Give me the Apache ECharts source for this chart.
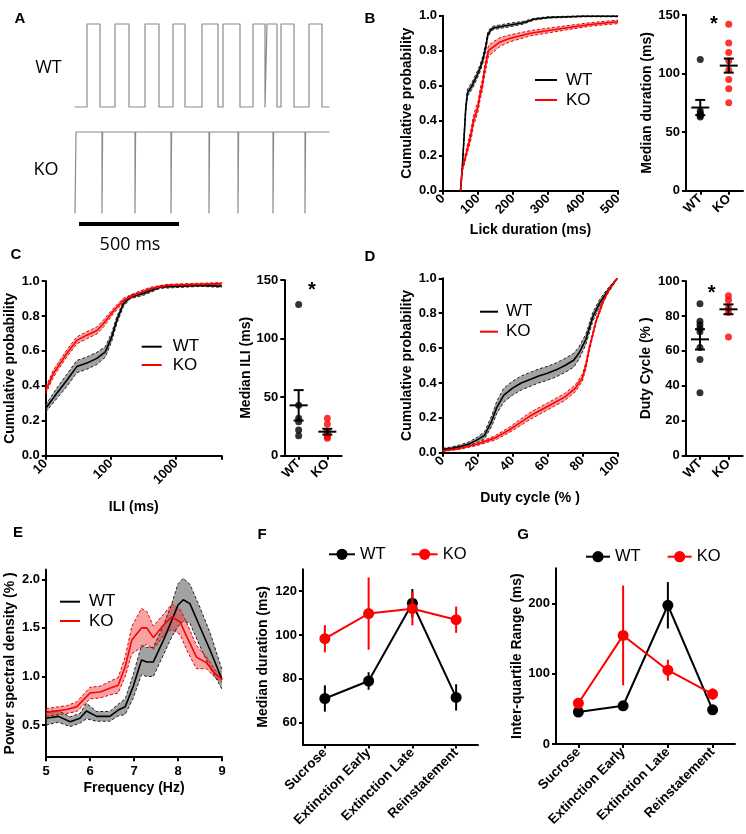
<!DOCTYPE html>
<html><head><meta charset="utf-8">
<script src="https://cdn.jsdelivr.net/npm/echarts@6/dist/echarts.min.js"></script>
<style>html,body{margin:0;padding:0;background:#fff}#c{width:746px;height:834px}</style>
</head><body><div id="c"></div>
<script>
const FONT = '"Liberation Sans", Arial, Helvetica, sans-serif';
const RED = '#ff0000';

// ---------- Panel A: example lick traces (ms) ----------
const wtTraceEdges = [60,125,200,270,350,420,490,550,635,715,740,825,890,950,960,1010,1030,1095,1170,1235];
const koTraceStart = 5;
const koTraceDips = [135,300,480,670,815,990,1150];
const koDipWidth = 3;
const traceEndMs = 1270;
const scaleBarMs = [20, 520];

// ---------- Panel B: lick duration CDF ----------
const bWtX = [50,55,60,65,70,83,95,106,114,122,128,135,143,170,200,230,260,300,400,500];
const bWtY = [0,0.13,0.3,0.47,0.56,0.6,0.65,0.7,0.75,0.82,0.89,0.915,0.93,0.94,0.95,0.96,0.98,0.99,0.997,0.997];
const bWtE = [0,0.01,0.02,0.02,0.02,0.02,0.02,0.02,0.02,0.02,0.015,0.012,0.01,0.01,0.01,0.008,0.005,0.004,0.003,0.003];
const bKoX = [50,55,65,81,87,100,106,112,120,130,143,163,190,250,350,420,500];
const bKoY = [0,0.12,0.2,0.33,0.4,0.48,0.55,0.6,0.7,0.8,0.82,0.85,0.87,0.9,0.93,0.95,0.965];
const bKoE = [0,0.01,0.02,0.03,0.03,0.03,0.03,0.03,0.03,0.03,0.03,0.025,0.02,0.015,0.012,0.01,0.01];
const groups = ['WT','KO'];
const bDotsWT = [112,68,66,65,64,63];
const bDotsKO = [142,126,118,111,103,95,87,75];
const bMean = [71,106.8];
const bSem = [6.5,6];

// ---------- Panel C: ILI CDF (log x) ----------
const cWtX = [10,14.8,21,30,42.7,61,82,103,123,156,198,317,570,2350,5000];
const cWtY = [0.27,0.357,0.43,0.51,0.53,0.557,0.594,0.68,0.775,0.87,0.909,0.928,0.966,0.975,0.97];
const cWtE = [0.02,0.03,0.035,0.035,0.035,0.035,0.03,0.025,0.02,0.015,0.01,0.01,0.008,0.006,0.006];
const cKoX = [10,13.1,21,30,42.7,61,77,110,156,222,400,730,5000];
const cKoY = [0.373,0.47,0.585,0.66,0.69,0.717,0.757,0.83,0.89,0.918,0.956,0.975,0.985];
const cKoE = [0.02,0.02,0.02,0.02,0.02,0.02,0.02,0.015,0.012,0.01,0.008,0.006,0.006];
const cDotsWT = [129,43,32,29,22,17];
const cDotsKO = [32,27,21,20,18,16,15];
const cMean = [43,20.5];
const cSem = [13,2.5];

// ---------- Panel D: duty cycle CDF ----------
const dWtX = [0,5,10,15,20,24,28,31,35,40,45,50,55,60,65,70,75,78,82,86,90,94,97,100];
const dWtY = [0.02,0.025,0.035,0.05,0.075,0.1,0.18,0.26,0.33,0.37,0.4,0.42,0.44,0.455,0.475,0.5,0.53,0.57,0.65,0.78,0.86,0.92,0.96,1.0];
const dWtE = [0.005,0.008,0.01,0.012,0.015,0.02,0.03,0.035,0.04,0.04,0.04,0.04,0.04,0.04,0.04,0.04,0.04,0.035,0.03,0.025,0.02,0.015,0.01,0];
const dKoX = [0,10,20,30,38,44,50,60,70,76,80,82,84,86,88,92,96,100];
const dKoY = [0.01,0.025,0.05,0.085,0.13,0.17,0.21,0.265,0.32,0.37,0.43,0.5,0.6,0.68,0.76,0.87,0.95,1.0];
const dKoE = [0.003,0.005,0.008,0.012,0.015,0.018,0.02,0.02,0.02,0.02,0.02,0.018,0.015,0.013,0.012,0.01,0.006,0];
const dDotsWT = [87,77,75,73,71,62,55,36];
const dDotsKO = [91.5,89,84.5,82,68];
const dMean = [66.6,83.8];
const dSem = [5.8,2.8];

// ---------- Panel E: power spectral density ----------
const eWtX = [5.0,5.28,5.55,5.77,5.92,6.15,6.45,6.64,6.8,6.98,7.17,7.29,7.44,7.67,7.86,8.0,8.12,8.27,8.5,8.73,9.0];
const eWtY = [0.57,0.59,0.535,0.57,0.645,0.59,0.59,0.655,0.69,0.895,1.17,1.15,1.15,1.375,1.58,1.735,1.79,1.75,1.51,1.27,0.97];
const eWtE = [0.07,0.06,0.05,0.05,0.08,0.05,0.05,0.06,0.08,0.12,0.15,0.15,0.15,0.15,0.17,0.22,0.22,0.2,0.2,0.18,0.1];
const eKoX = [5.0,5.47,5.7,6.0,6.23,6.45,6.64,6.8,6.95,7.17,7.29,7.44,7.67,7.86,8.05,8.2,8.42,8.65,8.84,9.0];
const eKoY = [0.63,0.66,0.69,0.83,0.84,0.88,0.91,1.1,1.375,1.5,1.5,1.4,1.53,1.615,1.56,1.41,1.2,1.14,1.03,0.97];
const eKoE = [0.04,0.04,0.05,0.06,0.06,0.07,0.08,0.1,0.14,0.2,0.17,0.12,0.11,0.13,0.13,0.14,0.12,0.06,0.04,0.03];

// ---------- Panels F and G ----------
const sessions = ['Sucrose','Extinction Early','Extinction Late','Reinstatement'];
const fWt = [71,79,114.5,71.5];
const fWtErr = [6,4,6.5,6];
const fKo = [98.3,109.8,112,107];
const fKoErr = [6.2,16.5,7.6,6];
const gWt = [45.4,54.4,197.4,48.6];
const gWtErr = [6,4,33,4];
const gKo = [58,154.5,105,71];
const gKoErr = [4,71,15,8];

// ================= helpers =================
function merge(a, b) {
  const r = Object.assign({}, a);
  for (const k in b) {
    if (b[k] && typeof b[k] === 'object' && !Array.isArray(b[k]) && a[k] && typeof a[k] === 'object' && !Array.isArray(a[k])) r[k] = merge(a[k], b[k]);
    else r[k] = b[k];
  }
  return r;
}
const axBase = {
  axisLine: {show: true, onZero: false, lineStyle: {color: '#000', width: 2}},
  axisTick: {show: true, length: 4, lineStyle: {color: '#000', width: 2}},
  axisLabel: {color: '#000', fontFamily: FONT, fontWeight: 'bold', fontSize: 13, margin: 6},
  splitLine: {show: false},
  nameLocation: 'middle',
  nameTextStyle: {color: '#000', fontFamily: FONT, fontWeight: 'bold', fontSize: 14}
};
function ax(gridIndex, o) { return merge(merge(axBase, {gridIndex}), o); }
function hidden(gridIndex, min, max) { return {gridIndex, type: 'value', show: false, min, max}; }
const fix1 = v => v.toFixed(1);
function zip(xs, ys) { return xs.map((x, i) => [x, ys[i]]); }

function traceData(edges, startLevel) {
  let lvl = startLevel; const d = [[0, lvl]];
  edges.forEach(t => { d.push([t, lvl]); lvl = 1 - lvl; d.push([t, lvl]); });
  d.push([traceEndMs, lvl]);
  return d;
}
function bandPoly(xi, yi, xs, ys, err, fill) {
  return {type: 'custom', xAxisIndex: xi, yAxisIndex: yi, silent: true, z: 1,
    data: xs.map((x, i) => [x, ys[i] - err[i], ys[i] + err[i]]),
    encode: {x: 0, y: [1, 2]},
    renderItem: function (params, api) {
      if (params.dataIndex !== 0) return null;
      const up = [], dn = [];
      for (let i = 0; i < xs.length; i++) {
        up.push(api.coord([xs[i], ys[i] + err[i]]));
        dn.push(api.coord([xs[i], ys[i] - err[i]]));
      }
      return {type: 'polygon', shape: {points: up.concat(dn.reverse())}, style: {fill}};
    }};
}
function dashed(xi, yi, xs, ys, err, sign, color) {
  return {type: 'line', xAxisIndex: xi, yAxisIndex: yi, silent: true, z: 2, symbol: 'none', showSymbol: false,
    data: xs.map((x, i) => [x, ys[i] + sign * err[i]]),
    lineStyle: {color, width: 1, type: [3, 2]}};
}
function meanLine(name, xi, yi, xs, ys, color) {
  return {type: 'line', name, xAxisIndex: xi, yAxisIndex: yi, silent: true, z: 3, symbol: 'none', showSymbol: false,
    data: zip(xs, ys), lineStyle: {color, width: 1.6}, itemStyle: {color}};
}
function cdf(name, xi, yi, xs, ys, err, color, fill, dash) {
  return [bandPoly(xi, yi, xs, ys, err, fill), dashed(xi, yi, xs, ys, err, 1, dash), dashed(xi, yi, xs, ys, err, -1, dash), meanLine(name, xi, yi, xs, ys, color)];
}
function meanSemRender(params, api) {
  const x = api.value(0), m = api.value(1), s = api.value(2);
  const c = api.coord([x, m]), t = api.coord([x, m + s]), b = api.coord([x, m - s]);
  const st = () => ({stroke: '#000', lineWidth: 2});
  return {type: 'group', children: [
    {type: 'line', shape: {x1: c[0] - 9, y1: c[1], x2: c[0] + 9, y2: c[1]}, style: st()},
    {type: 'line', shape: {x1: c[0], y1: t[1], x2: c[0], y2: b[1]}, style: st()},
    {type: 'line', shape: {x1: c[0] - 5, y1: t[1], x2: c[0] + 5, y2: t[1]}, style: st()},
    {type: 'line', shape: {x1: c[0] - 5, y1: b[1], x2: c[0] + 5, y2: b[1]}, style: st()}
  ]};
}
function dotPlot(xi, yi, wtVals, koVals, means, sems) {
  return [
    {type: 'scatter', name: 'WT points', xAxisIndex: xi, yAxisIndex: yi, silent: true, z: 3, symbolSize: 7,
      data: wtVals.map(v => [groups[0], v]), itemStyle: {color: '#000'}},
    {type: 'scatter', name: 'KO points', xAxisIndex: xi, yAxisIndex: yi, silent: true, z: 3, symbolSize: 7,
      data: koVals.map(v => [groups[1], v]), itemStyle: {color: RED}},
    {type: 'custom', xAxisIndex: xi, yAxisIndex: yi, silent: true, z: 4, encode: {x: 0, y: 1},
      data: means.map((m, i) => [i, m, sems[i]]), renderItem: meanSemRender}
  ];
}
function errRender(color) {
  return function (params, api) {
    const x = api.value(0), m = api.value(1), e = api.value(2);
    const t = api.coord([x, m + e]), b = api.coord([x, m - e]);
    return {type: 'line', shape: {x1: t[0], y1: t[1], x2: b[0], y2: b[1]}, style: {stroke: color, lineWidth: 2}};
  };
}
function sessionSeries(name, xi, yi, vals, errs, color, zBase) {
  return [
    {type: 'custom', xAxisIndex: xi, yAxisIndex: yi, silent: true, z: zBase, encode: {x: 0, y: 1},
      data: vals.map((v, i) => [i, v, errs[i]]), renderItem: errRender(color)},
    {type: 'line', name, xAxisIndex: xi, yAxisIndex: yi, silent: true, z: zBase + 1, data: vals,
      symbol: 'circle', symbolSize: 11, lineStyle: {color, width: 2}, itemStyle: {color}}
  ];
}
function lineLegend(left, top, w, gap, pad) {
  return {left, top, orient: 'vertical', icon: 'rect', itemWidth: w, itemHeight: 2, itemGap: gap, selectedMode: false, padding: 0,
    itemStyle: {borderWidth: 0},
    textStyle: {fontFamily: FONT, fontSize: 17, color: '#000', lineHeight: 17, padding: [0, 0, 0, pad]},
    data: [{name: 'WT', itemStyle: {color: '#000'}}, {name: 'KO', itemStyle: {color: RED}}]};
}
function dotLegend(left, top, w, gap) {
  return {left, top, orient: 'horizontal', itemWidth: w, itemHeight: 14, itemGap: gap, selectedMode: false, padding: 0,
    lineStyle: {width: 2},
    textStyle: {fontFamily: FONT, fontSize: 16.5, color: '#000', lineHeight: 17},
    data: ['WT', 'KO']};
}
function txt(t, x, y, size, weight, family) {
  return {type: 'text', x, y, silent: true,
    style: {text: t, fontSize: size, fontWeight: weight || 'normal', fontFamily: family || FONT, fill: '#000', align: 'center', verticalAlign: 'middle'}};
}

const grids = [
  {left: 75, top: 24, width: 254, height: 83},
  {left: 75, top: 132, width: 254, height: 81},
  {left: 75, top: 220, width: 254, height: 8},
  {left: 443, top: 15.7, width: 175, height: 175},
  {left: 686, top: 15, width: 57, height: 175.7},
  {left: 45.7, top: 281, width: 176, height: 174.7},
  {left: 284.3, top: 280, width: 57.4, height: 175.7},
  {left: 442.7, top: 278.3, width: 174.6, height: 174.4},
  {left: 685.7, top: 281, width: 57, height: 174.7},
  {left: 46, top: 569.6, width: 176, height: 187.6},
  {left: 303, top: 569.3, width: 175, height: 175.2},
  {left: 556, top: 568.3, width: 179, height: 175.7}
];

const catX = (gi, data) => ax(gi, {type: 'category', data, axisTick: {alignWithLabel: true}, axisLabel: {rotate: 45, interval: 0}});

const xAxes = [
  hidden(0, 0, traceEndMs), hidden(1, 0, traceEndMs), hidden(2, 0, traceEndMs),
  ax(3, {type: 'value', min: 0, max: 500, interval: 100, axisLabel: {rotate: 45}, name: 'Lick duration (ms)', nameGap: 32}),
  catX(4, groups),
  ax(5, {type: 'log', logBase: 10, min: 10, max: 5000, axisLabel: {rotate: 45, formatter: v => ([10, 100, 1000].indexOf(Math.round(v)) >= 0 ? String(Math.round(v)) : '')},
    name: 'ILI (ms)', nameGap: 44}),
  catX(6, groups),
  ax(7, {type: 'value', min: 0, max: 100, interval: 20, axisLabel: {rotate: 45}, name: 'Duty cycle (% )', nameGap: 38.6}),
  catX(8, groups),
  ax(9, {type: 'value', min: 5, max: 9, interval: 1, name: 'Frequency (Hz)', nameGap: 24, axisLabel: {margin: 8}}),
  merge(catX(10, sessions), {axisLabel: {fontSize: 13.5}}),
  merge(catX(11, sessions), {axisLabel: {fontSize: 13.5}})
];
const yAxes = [
  hidden(0, 0, 1), hidden(1, 0, 1), hidden(2, 0, 1),
  ax(3, {type: 'value', min: 0, max: 1, interval: 0.2, axisLabel: {formatter: fix1}, name: 'Cumulative probability', nameGap: 29}),
  ax(4, {type: 'value', min: 0, max: 150, interval: 50, name: 'Median duration (ms)', nameGap: 32}),
  ax(5, {type: 'value', min: 0, max: 1, interval: 0.2, axisLabel: {formatter: fix1}, name: 'Cumulative probability', nameGap: 29}),
  ax(6, {type: 'value', min: 0, max: 150, interval: 50, name: 'Median ILI (ms)', nameGap: 30}),
  ax(7, {type: 'value', min: 0, max: 1, interval: 0.2, axisLabel: {formatter: fix1}, name: 'Cumulative probability', nameGap: 29}),
  ax(8, {type: 'value', min: 0, max: 100, interval: 20, name: 'Duty Cycle (% )', nameGap: 33}),
  ax(9, {type: 'value', min: 0.17, max: 2.1, axisTick: {customValues: [0.5, 1, 1.5, 2]},
    axisLabel: {customValues: [0.5, 1, 1.5, 2], formatter: v => (Math.abs(v * 2 - Math.round(v * 2)) < 1e-6 ? v.toFixed(1) : '')},
    name: 'Power spectral density (% )', nameGap: 29}),
  ax(10, {type: 'value', min: 50, max: 130, axisTick: {customValues: [60, 80, 100, 120]},
    axisLabel: {customValues: [60, 80, 100, 120], formatter: v => (v % 20 === 0 && v >= 60 && v <= 120 ? String(v) : '')},
    name: 'Median duration (ms)', nameGap: 33}),
  ax(11, {type: 'value', min: 0, max: 250, axisTick: {customValues: [0, 100, 200]},
    axisLabel: {customValues: [0, 100, 200], formatter: v => (v % 100 === 0 && v <= 200 ? String(v) : '')},
    name: 'Inter-quartile Range (ms)', nameGap: 28})
];

const traceStyle = () => ({color: '#8a8a8a', width: 1.2, join: 'round', cap: 'round'});
const koEdges = [koTraceStart].concat(...koTraceDips.map(t => [t, t + koDipWidth]));

const series = [].concat(
  cdf('WT', 3, 3, bWtX, bWtY, bWtE, '#000', 'rgba(70,70,70,0.5)', '#222'),
  cdf('KO', 3, 3, bKoX, bKoY, bKoE, RED, 'rgba(238,50,50,0.45)', '#e00000'),
  [
    {type: 'line', name: 'WT trace', xAxisIndex: 0, yAxisIndex: 0, silent: true, clip: false, symbol: 'none', data: traceData(wtTraceEdges, 0), lineStyle: traceStyle()},
    {type: 'line', name: 'KO trace', xAxisIndex: 1, yAxisIndex: 1, silent: true, clip: false, symbol: 'none', data: traceData(koEdges, 0), lineStyle: traceStyle()},
    {type: 'line', name: 'scale bar', xAxisIndex: 2, yAxisIndex: 2, silent: true, clip: false, symbol: 'none', data: scaleBarMs.map(t => [t, 0.5]), lineStyle: {color: '#000', width: 4}}
  ],
  dotPlot(4, 4, bDotsWT, bDotsKO, bMean, bSem),
  cdf('WT', 5, 5, cWtX, cWtY, cWtE, '#000', 'rgba(70,70,70,0.5)', '#222'),
  cdf('KO', 5, 5, cKoX, cKoY, cKoE, RED, 'rgba(238,50,50,0.45)', '#e00000'),
  dotPlot(6, 6, cDotsWT, cDotsKO, cMean, cSem),
  cdf('WT', 7, 7, dWtX, dWtY, dWtE, '#000', 'rgba(70,70,70,0.5)', '#222'),
  cdf('KO', 7, 7, dKoX, dKoY, dKoE, RED, 'rgba(238,50,50,0.45)', '#e00000'),
  dotPlot(8, 8, dDotsWT, dDotsKO, dMean, dSem),
  cdf('WT', 9, 9, eWtX, eWtY, eWtE, '#000', 'rgba(70,70,70,0.5)', '#222'),
  cdf('KO', 9, 9, eKoX, eKoY, eKoE, RED, 'rgba(238,50,50,0.45)', '#e00000'),
  sessionSeries('WT', 10, 10, fWt, fWtErr, '#000', 3),
  sessionSeries('KO', 10, 10, fKo, fKoErr, RED, 5),
  sessionSeries('WT', 11, 11, gWt, gWtErr, '#000', 3),
  sessionSeries('KO', 11, 11, gKo, gKoErr, RED, 5)
);

const option = {
  animation: false,
  backgroundColor: '#fff',
  grid: grids,
  xAxis: xAxes,
  yAxis: yAxes,
  legend: [
    lineLegend(535, 71.5, 22, 3, 4),
    lineLegend(141.7, 338.2, 20, 1.3, 6),
    lineLegend(480, 303.2, 18, 3, 3),
    lineLegend(60, 593.2, 20, 2.3, 4),
    dotLegend(328, 545.8, 26, 25),
    dotLegend(585, 548.2, 24, 26)
  ],
  series,
  graphic: [
    txt('A', 20, 19, 15, 'bold'), txt('B', 370, 19, 15, 'bold'), txt('C', 16, 255, 15, 'bold'),
    txt('D', 370, 257, 15, 'bold'), txt('E', 18, 533, 15, 'bold'), txt('F', 262, 535, 15, 'bold'), txt('G', 523, 535, 15, 'bold'),
    txt('WT', 48.5, 68, 18, 'normal', '"Open Sans", sans-serif'),
    txt('KO', 46, 170, 18, 'normal', '"Open Sans", sans-serif'),
    txt('500 ms', 130, 245, 18, 'normal', '"Open Sans", sans-serif'),
    txt('*', 714, 24, 20, 'bold'), txt('*', 312, 290, 20, 'bold'), txt('*', 711.7, 293, 20, 'bold')
  ]
};
const chart = echarts.init(document.getElementById('c'), null, {renderer: 'canvas', width: 746, height: 834});
chart.setOption(option);
</script></body></html>
